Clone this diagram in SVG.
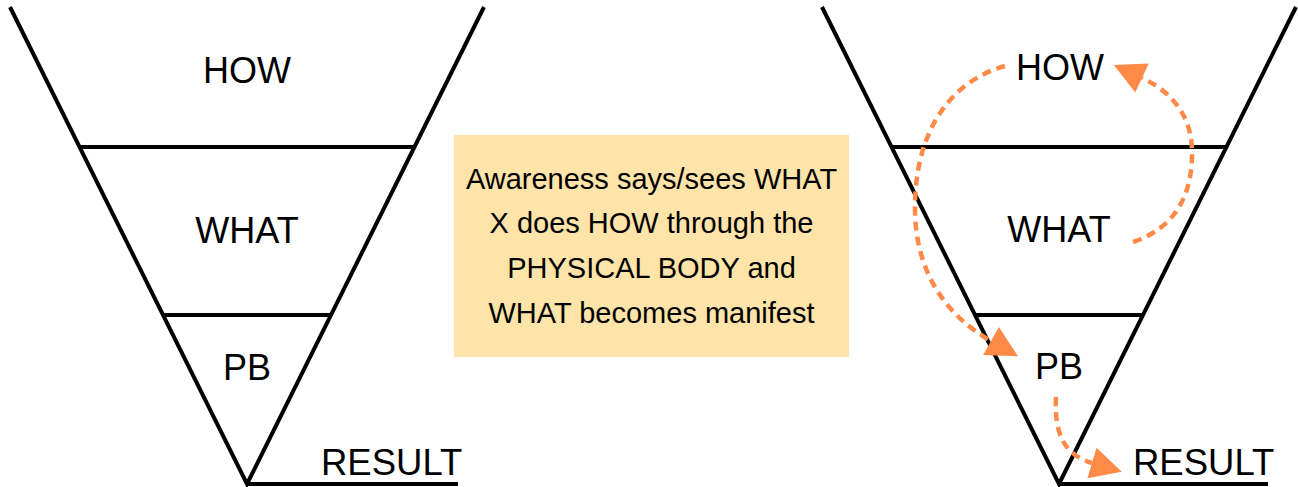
<svg xmlns="http://www.w3.org/2000/svg" width="1298" height="487" viewBox="0 0 1298 487">
<style>
.ln{stroke:#000;stroke-width:4;fill:none;stroke-linecap:butt}
.lbl{font-family:"Liberation Sans",Arial,sans-serif;font-size:36px;fill:#000;text-anchor:middle}
.res{font-family:"Liberation Sans",Arial,sans-serif;font-size:36.5px;fill:#000}
.note{font-family:"Liberation Sans",Arial,sans-serif;font-size:29px;fill:#000;text-anchor:middle}
.arr{stroke:#ff8a48;stroke-width:4.5;fill:none;stroke-dasharray:9 6;marker-end:url(#ah)}
</style>
<defs>
<marker id="ah" markerUnits="userSpaceOnUse" markerWidth="32" markerHeight="32" refX="0" refY="16" orient="auto" overflow="visible">
<path d="M0,0 L31,16 L0,32 Z" fill="#ff8a48"/>
</marker>
</defs>
<g id="funnel-left">
<path class="ln" d="M10,7 L247,484 L484,7"/>
<line class="ln" x1="80" y1="147" x2="414" y2="147"/>
<line class="ln" x1="164" y1="315" x2="330" y2="315"/>
<line class="ln" x1="247" y1="484" x2="458" y2="484"/>
</g>
<g id="how-left"><text class="lbl" x="247" y="83">HOW</text></g>
<g id="what-left"><text class="lbl" x="247" y="243">WHAT</text></g>
<g id="pb-left"><text class="lbl" x="247" y="380">PB</text></g>
<g id="result-left"><text class="res" x="321" y="475">RESULT</text></g>
<g id="note">
<rect x="454" y="135" width="395" height="222" fill="#fee4a8"/>
<text class="note" x="651.5" y="189">Awareness says/sees WHAT</text>
<text class="note" x="651.5" y="233">X does HOW through the</text>
<text class="note" x="651.5" y="278">PHYSICAL BODY and</text>
<text class="note" x="651.5" y="323">WHAT becomes manifest</text>
</g>
<g id="funnel-right">
<path class="ln" d="M822,7 L1059,484 L1296,7"/>
<line class="ln" x1="892" y1="147" x2="1226" y2="147"/>
<line class="ln" x1="976" y1="315" x2="1142" y2="315"/>
<line class="ln" x1="1059" y1="484" x2="1268" y2="484"/>
</g>
<g id="how-right"><text class="lbl" x="1060" y="80">HOW</text></g>
<g id="what-right"><text class="lbl" x="1059" y="242">WHAT</text></g>
<g id="pb-right"><text class="lbl" x="1059" y="379">PB</text></g>
<g id="result-right"><text class="res" x="1133" y="475">RESULT</text></g>
<g id="connectors">
<path class="arr" d="M1005,66 C955,80 916,125 915,205 C914,270 945,315 991,341"/>
<path class="arr" d="M1133,242 C1175,228 1193,195 1192,150 C1191,112 1168,90 1142,78"/>
<path class="arr" d="M1056,397 C1054,435 1065,455 1092,463"/>
</g>
</svg>
